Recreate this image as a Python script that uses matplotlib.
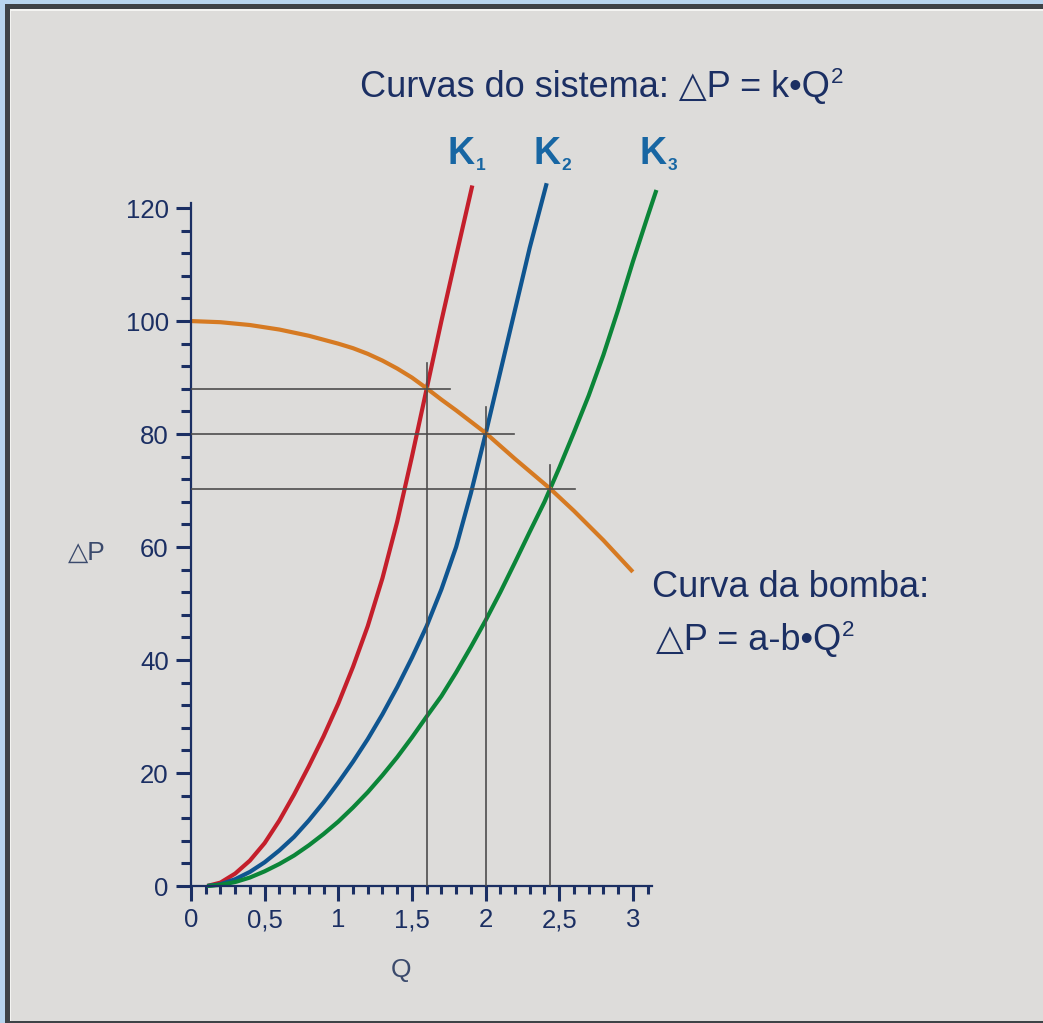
import matplotlib.pyplot as plt
from matplotlib.patches import Rectangle
from matplotlib.ticker import MultipleLocator

W, H = 1043, 1023

# curvas do sistema (Q, dP)
q_k1 = [0.11, 0.2, 0.3, 0.4, 0.5, 0.6, 0.7, 0.8, 0.9, 1.0, 1.1, 1.2, 1.3, 1.4, 1.5, 1.6, 1.7, 1.8, 1.91]
p_k1 = [0, 0.6, 2.2, 4.5, 7.6, 11.6, 16.2, 21.2, 26.5, 32.3, 38.8, 46, 54.5, 64.5, 76, 88, 100, 111.5, 124]

q_k2 = [0.11, 0.2, 0.3, 0.4, 0.5, 0.6, 0.7, 0.8, 0.9, 1.0, 1.1, 1.2, 1.3, 1.4, 1.5, 1.6,
        1.7, 1.8, 1.9, 2.0, 2.1, 2.2, 2.3, 2.415]
p_k2 = [0, 0.3, 1.2, 2.5, 4.2, 6.3, 8.7, 11.6, 14.8, 18.3, 22, 26, 30.4, 35.2, 40.4, 46,
        52.5, 60, 69.5, 80, 91, 102, 113, 124.4]

q_k3 = [0.11, 0.2, 0.3, 0.4, 0.5, 0.6, 0.7, 0.8, 0.9, 1.0, 1.1, 1.2, 1.3, 1.4, 1.5, 1.6, 1.7,
        1.8, 1.9, 2.0, 2.1, 2.2, 2.3, 2.4, 2.5, 2.6, 2.7, 2.8, 2.9, 3.0, 3.1, 3.16]
p_k3 = [0, 0.2, 0.7, 1.5, 2.6, 3.9, 5.4, 7.2, 9.2, 11.4, 13.9, 16.6, 19.6, 22.8, 26.3, 30, 33.6,
        37.8, 42.3, 47, 52, 57.3, 62.7, 68, 74, 80.3, 86.8, 94, 102, 110.5, 118.5, 123.2]

# curva da bomba
q_pump = [0, 0.2, 0.4, 0.6, 0.8, 1.0, 1.1, 1.2, 1.3, 1.4, 1.5, 1.6, 1.7, 1.8, 2.0, 2.2, 2.44,
          2.6, 2.8, 3.0]
p_pump = [100, 99.8, 99.3, 98.5, 97.4, 96, 95.2, 94.2, 93, 91.6, 90, 88.1, 86.1, 84.2, 80.2,
          75.6, 70.3, 66.4, 61.2, 55.6]

# pontos de operacao
op_q = [1.6, 2.0, 2.44]
op_p = [88, 80, 70.3]
h_end = [1.76, 2.195, 2.61]
v_top = [92.5, 84.8, 74.5]

x_ticks = [0, 0.5, 1, 1.5, 2, 2.5, 3]
x_labels = ['0', '0,5', '1', '1,5', '2', '2,5', '3']
y_ticks = [0, 20, 40, 60, 80, 100, 120]

navy = '#1b2f63'
bg = '#dddcda'

plt.rcParams['font.family'] = ['Liberation Sans', 'DejaVu Sans']

fig = plt.figure(figsize=(W / 100, H / 100), dpi=100)
fig.patch.set_facecolor('#b8d5ee')


def px_rect(x0, y0, x1, y1, color):
    fig.add_artist(Rectangle((x0 / W, 1 - y1 / H), (x1 - x0) / W, (y1 - y0) / H,
                             transform=fig.transFigure, facecolor=color,
                             edgecolor='none', zorder=-10))


# moldura
px_rect(5, 4, W, H, '#3e4347')
px_rect(10, 9, W, 1021, '#f4f4f2')
px_rect(11, 11, W, 1021, bg)

ax = fig.add_axes([191 / W, 137 / H, 461 / W, 683 / H])
ax.set_facecolor('none')
ax.set_xlim(0, 3.13)
ax.set_ylim(0, 120.9)

for side in ['top', 'right']:
    ax.spines[side].set_visible(False)
for side in ['left', 'bottom']:
    ax.spines[side].set_color(navy)
    ax.spines[side].set_linewidth(1.6)

ax.set_xticks(x_ticks)
ax.set_xticklabels(x_labels)
ax.set_yticks(y_ticks)
ax.xaxis.set_minor_locator(MultipleLocator(0.1))
ax.yaxis.set_minor_locator(MultipleLocator(4))
ax.tick_params(which='both', direction='out', color=navy, width=2.2)
ax.tick_params(which='major', length=11, labelsize=18.5, labelcolor=navy)
ax.tick_params(axis='x', which='major', pad=5)
ax.tick_params(axis='y', which='major', pad=5)
ax.tick_params(axis='x', which='minor', length=6)
ax.tick_params(axis='y', which='minor', length=7.5)

ax.plot(q_k1, p_k1, color='#c41f2b', lw=3, clip_on=False, solid_capstyle='butt')
ax.plot(q_k2, p_k2, color='#0f5590', lw=3, clip_on=False, solid_capstyle='butt')
ax.plot(q_k3, p_k3, color='#0b8538', lw=3, clip_on=False, solid_capstyle='butt')
ax.plot(q_pump, p_pump, color='#d67a22', lw=3, clip_on=False, solid_capstyle='butt')

for q, p, xe, yt in zip(op_q, op_p, h_end, v_top):
    ax.plot([0, xe], [p, p], color='#4d4d4d', lw=1.2, zorder=3)
    ax.plot([q, q], [0, yt], color='#4d4d4d', lw=1.2, zorder=3)


def px_text(x, y, s, **kw):
    return fig.text(x / W, 1 - y / H, s, **kw)


renderer = fig.canvas.get_renderer()


def with_square(x, y, s, size):
    # texto seguido de um "2" elevado
    t = px_text(x, y, s, fontsize=size, color=navy, ha='left', va='baseline')
    x_end = t.get_window_extent(renderer).x1
    px_text(x_end + 1, y - 14, '2', fontsize=size * 0.62, color=navy, ha='left', va='baseline')


tri = '\u25b3'
with_square(360, 97, 'Curvas do sistema: ' + tri + 'P = k\u2022Q', 26)

k_blue = '#1766a3'
for x, sub in [(448, '1'), (533, '2'), (640, '3')]:
    px_text(x, 164, 'K', fontsize=27, fontweight='bold', color=k_blue, ha='left', va='baseline')
    px_text(x + 28, 170, sub, fontsize=12.5, fontweight='bold', color=k_blue, ha='left', va='baseline')

px_text(652, 597, 'Curva da bomba:', fontsize=26, color=navy, ha='left', va='baseline')
with_square(656, 650, tri + 'P = a-b\u2022Q', 26)

px_text(87, 553, tri + 'P', fontsize=19, color='#3b4a6c', ha='center', va='center')
px_text(401, 970, 'Q', fontsize=19, color='#3b4a6c', ha='center', va='center')

fig.savefig('out.png', dpi=100, facecolor=fig.get_facecolor())
